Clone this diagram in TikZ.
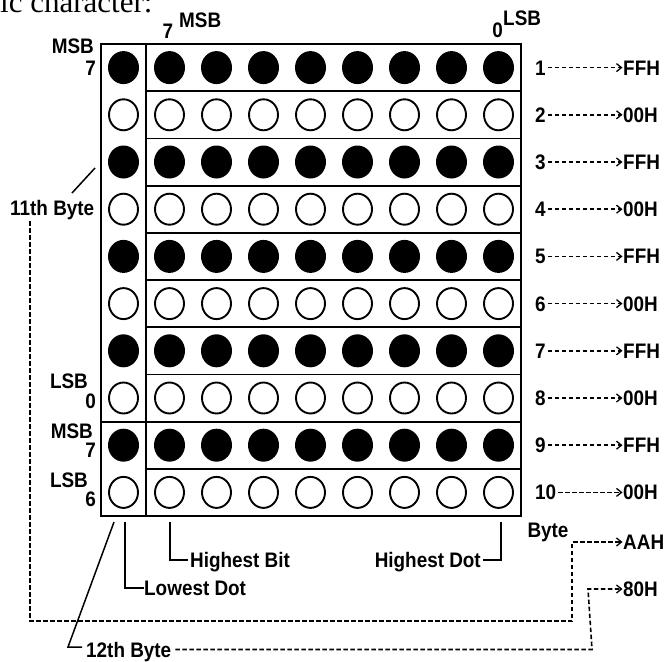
\documentclass[tikz,border=0pt]{standalone}
\usepackage{fontspec}
\setmainfont{Liberation Sans}
\newfontfamily\lblfont{Liberation Sans Bold}[FakeStretch=0.9]
\newfontfamily\serifheading{Liberation Serif}
\usetikzlibrary{arrows.meta,shapes.geometric}
\begin{document}
\begin{tikzpicture}[x=1pt,y=-1pt,
  lbl/.style={font=\lblfont\fontsize{21}{23}\selectfont, inner sep=0pt, text height=15pt, text depth=0pt},
  frame/.style={line width=1.8pt},
  bdot/.style={ellipse, fill=black, minimum width=31pt, minimum height=33pt, inner sep=0pt},
  wdot/.style={ellipse, draw=black, line width=1.9pt, minimum width=29pt, minimum height=31pt, inner sep=0pt},
  dashline/.style={dash pattern=on 4.5pt off 2.5pt, line width=1.6pt},
  arr/.style={-{Straight Barb[length=5pt,width=8pt,line width=1.3pt]}},
  leader/.style={line width=1.5pt}]
\fill[white] (0,0) rectangle (669,661);
\useasboundingbox (0,0) rectangle (669,661);

% heading fragment
\node[font=\serifheading\fontsize{31}{32}\selectfont, anchor=base west, inner sep=0pt] (head) at (0,12.5) {ic character:};

% frame
\draw[frame] (101,44) rectangle (521,516);
\draw[frame] (146,44) -- (146,516);
\foreach \k in {1,...,9} \draw[frame] (146,{44+47.2*\k}) -- (521,{44+47.2*\k});
\draw[frame] (101,421.6) -- (146,421.6);

% dots, row numbers and values
\foreach \r/\s/\v in {1/bdot/FFH,2/wdot/00H,3/bdot/FFH,4/wdot/00H,5/bdot/FFH,6/wdot/00H,7/bdot/FFH,8/wdot/00H,9/bdot/FFH,10/wdot/00H} {
  \pgfmathsetmacro\cy{67.6+47.2*(\r-1)}
  \node[\s] (L\r) at (123.5,\cy) {};
  \foreach \c in {1,...,8} \node[\s] (D\r-\c) at ({169.5+47*(\c-1)},\cy) {};
  \node[lbl, anchor=west] (n\r) at (535,\cy) {\r};
  \node[lbl, anchor=west] (v\r) at (623,\cy) {\v};
  \draw[dashline, arr] ([xshift=2pt]n\r.east) -- ([xshift=-0.5pt]v\r.west);
}

% bit labels
\node[lbl, anchor=east] (msbA) at (94,45.5) {MSB};
\node[lbl, anchor=east] (sevA) at (96,67.5) {7};
\node[lbl] (sevT) at (168,31) {7};
\node[lbl, anchor=west] (msbT) at (179,20) {MSB};
\node[lbl] (zeroT) at (497.5,30) {0};
\node[lbl, anchor=west] (lsbT) at (503,18.5) {LSB};
\node[lbl, anchor=east] (lsbB) at (88,380.5) {LSB};
\node[lbl, anchor=east] (zeroB) at (96,401) {0};
\node[lbl, anchor=east] (msbC) at (93,430.5) {MSB};
\node[lbl, anchor=east] (sevC) at (96,450) {7};
\node[lbl, anchor=east] (lsbD) at (88,479.5) {LSB};
\node[lbl, anchor=east] (sixD) at (96,498.5) {6};

% 11th byte
\node[lbl, anchor=west] (eleven) at (10,207.5) {11th Byte};
\coordinate (e11a) at (72,193);
\coordinate (e11b) at (95,168);
\draw[leader] (e11a) -- (e11b);

% bottom labels
\node[lbl] (byte) at (548,530) {Byte};
\node[lbl, anchor=west] (vAA) at (623,542) {AAH};
\node[lbl, anchor=west] (v80) at (623,589) {80H};
\node[lbl, anchor=west] (hbit) at (190,560) {Highest Bit};
\node[lbl, anchor=east] (hdot) at (481,560) {Highest Dot};
\node[lbl, anchor=west] (lowd) at (144,588) {Lowest Dot};
\node[lbl, anchor=west] (twelve) at (86,649.5) {12th Byte};

% leaders
\coordinate (ld0) at (125,522);
\draw[leader] (ld0) -- (ld0 |- lowd.west) -- (lowd.west);
\coordinate (hb0) at (170,522);
\draw[leader] (hb0) -- (hb0 |- hbit.west) -- ([xshift=-2pt]hbit.west);
\coordinate (hd0) at (501,522);
\draw[leader] (hd0) -- (hd0 |- hdot.east) -- ([xshift=2pt]hdot.east);
\coordinate (c12a) at (114,522);
\coordinate (c12b) at (68,647);
\draw[leader] (c12a) -- (c12b) -- ([xshift=-4pt]twelve.west |- c12b);

% dashed byte connectors
\coordinate (s11) at (30,221);
\coordinate (c11y) at (0,621);
\coordinate (c11x) at (572,0);
\draw[dashline, arr] (s11) -- (s11 |- c11y) -- (c11x |- c11y) -- (c11x |- vAA.west) -- ([xshift=-0.5pt]vAA.west);
\coordinate (c12x) at (588,0);
\draw[dashline, arr] ([xshift=4pt]twelve.east) -- ([xshift=4pt]twelve.east -| c12x) -- (c12x |- v80.west) -- ([xshift=-0.5pt]v80.west);
\end{tikzpicture}
\end{document}
